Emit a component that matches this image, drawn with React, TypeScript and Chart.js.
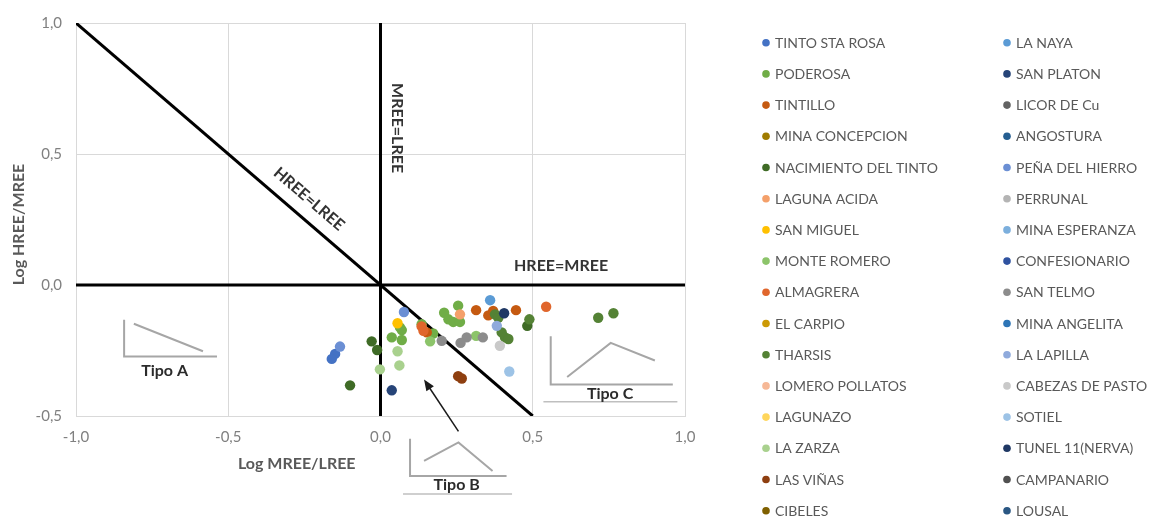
import { useEffect, useRef } from 'react';
import { Chart, registerables } from 'chart.js';

Chart.register(...registerables);

const FONT = 'Lato, "Open Sans", sans-serif';

// series names, in legend order (two columns of 16)
const SERIES_NAMES = [
  'TINTO STA ROSA', 'PODEROSA', 'TINTILLO', 'MINA CONCEPCION', 'NACIMIENTO DEL TINTO',
  'LAGUNA ACIDA', 'SAN MIGUEL', 'MONTE ROMERO', 'ALMAGRERA', 'EL CARPIO', 'THARSIS',
  'LOMERO POLLATOS', 'LAGUNAZO', 'LA ZARZA', 'LAS VIÑAS', 'CIBELES',
  'LA NAYA', 'SAN PLATON', 'LICOR DE Cu', 'ANGOSTURA', 'PEÑA DEL HIERRO', 'PERRUNAL',
  'MINA ESPERANZA', 'CONFESIONARIO', 'SAN TELMO', 'MINA ANGELITA', 'LA LAPILLA',
  'CABEZAS DE PASTO', 'SOTIEL', 'TUNEL 11(NERVA)', 'CAMPANARIO', 'LOUSAL',
];

const SERIES_COLORS = [
  '#4472C4', '#70AD47', '#C55A11', '#A07C00', '#3F6B26',
  '#F4A06A', '#FFC000', '#8CC46A', '#E0662C', '#CC9A06', '#548235',
  '#F6B896', '#FFD65C', '#A9D18E', '#8E3F10', '#7F6000',
  '#5B9BD5', '#264478', '#636363', '#255E91', '#6B8FD4', '#B4B4B4',
  '#7CAFDD', '#2F52A0', '#8C8C8C', '#2E75B6', '#8FAADC',
  '#C9C9C9', '#9DC3E6', '#1F3864', '#505050', '#2A5783',
];

// [Log MREE/LREE, Log HREE/MREE]
const TINTO_STA_ROSA = [[-0.149, -0.263], [-0.160, -0.282]];
const PODEROSA = [
  [0.255, -0.079], [0.209, -0.106], [0.223, -0.131], [0.239, -0.141], [0.261, -0.141],
  [0.064, -0.162], [0.070, -0.172], [0.037, -0.200], [0.070, -0.210], [0.135, -0.150],
  [0.173, -0.185],
];
const TINTILLO = [[0.314, -0.096], [0.354, -0.116], [0.370, -0.099], [0.445, -0.096], [0.152, -0.181]];
const MINA_CONCEPCION: number[][] = [];
const NACIMIENTO_DEL_TINTO = [[-0.029, -0.215], [-0.011, -0.248], [-0.100, -0.383], [0.482, -0.156]];
const LAGUNA_ACIDA = [[0.261, -0.112]];
const SAN_MIGUEL = [[0.056, -0.146]];
const MONTE_ROMERO = [[0.314, -0.194], [0.163, -0.215]];
const ALMAGRERA = [[0.544, -0.083], [0.135, -0.158], [0.141, -0.175]];
const EL_CARPIO: number[][] = [];
const THARSIS = [
  [0.376, -0.112], [0.387, -0.125], [0.398, -0.181], [0.409, -0.200], [0.420, -0.206],
  [0.489, -0.131], [0.715, -0.125], [0.765, -0.108],
];
const LOMERO_POLLATOS: number[][] = [];
const LAGUNAZO: number[][] = [];
const LA_ZARZA = [[0.056, -0.253], [0.062, -0.307], [-0.002, -0.322]];
const LAS_VINAS = [[0.255, -0.348], [0.267, -0.357]];
const CIBELES: number[][] = [];
const LA_NAYA = [[0.360, -0.058]];
const SAN_PLATON = [[0.037, -0.402]];
const LICOR_DE_CU: number[][] = [];
const ANGOSTURA: number[][] = [];
const PENA_DEL_HIERRO = [[-0.133, -0.235], [0.077, -0.103]];
const PERRUNAL: number[][] = [];
const MINA_ESPERANZA: number[][] = [];
const CONFESIONARIO: number[][] = [];
const SAN_TELMO = [[0.283, -0.200], [0.263, -0.221], [0.336, -0.200], [0.201, -0.213]];
const MINA_ANGELITA: number[][] = [];
const LA_LAPILLA = [[0.382, -0.156]];
const CABEZAS_DE_PASTO = [[0.392, -0.232]];
const SOTIEL = [[0.423, -0.330]];
const TUNEL_11 = [[0.406, -0.108]];
const CAMPANARIO: number[][] = [];
const LOUSAL: number[][] = [];

const SERIES_POINTS = [
  TINTO_STA_ROSA, PODEROSA, TINTILLO, MINA_CONCEPCION, NACIMIENTO_DEL_TINTO,
  LAGUNA_ACIDA, SAN_MIGUEL, MONTE_ROMERO, ALMAGRERA, EL_CARPIO, THARSIS,
  LOMERO_POLLATOS, LAGUNAZO, LA_ZARZA, LAS_VINAS, CIBELES,
  LA_NAYA, SAN_PLATON, LICOR_DE_CU, ANGOSTURA, PENA_DEL_HIERRO, PERRUNAL,
  MINA_ESPERANZA, CONFESIONARIO, SAN_TELMO, MINA_ANGELITA, LA_LAPILLA,
  CABEZAS_DE_PASTO, SOTIEL, TUNEL_11, CAMPANARIO, LOUSAL,
];

// reference lines
const HREE_LREE_LINE = [[-1, 1], [0.5, -0.5]];
const MREE_LREE_LINE = [[0, 1], [0, -0.5]];
const HREE_MREE_LINE = [[-1, 0], [1, 0]];

const X_TICKS = [-1, -0.5, 0, 0.5, 1];
const Y_TICKS = [-0.5, 0, 0.5, 1];

// sketches of the three pattern types, in data units
const TIPO_A = {
  axes: [[-0.842, -0.133], [-0.842, -0.273], [-0.537, -0.273]],
  shape: [[-0.810, -0.148], [-0.583, -0.253]],
  label: [-0.709, -0.326],
  rule: null as number[][] | null,
};
const TIPO_B = {
  axes: [[0.097, -0.587], [0.097, -0.729], [0.414, -0.729]],
  shape: [[0.143, -0.671], [0.256, -0.601], [0.368, -0.710]],
  label: [0.250, -0.764],
  rule: [[0.074, -0.798], [0.432, -0.798]],
};
const TIPO_C = {
  axes: [[0.559, -0.196], [0.559, -0.380], [0.960, -0.380]],
  shape: [[0.613, -0.351], [0.756, -0.221], [0.901, -0.288]],
  label: [0.754, -0.414],
  rule: [[0.535, -0.446], [0.975, -0.446]],
};
const ARROW = [[0.256, -0.559], [0.143, -0.361]];

const fmt = (v: number) => v.toFixed(1).replace('.', ',');
const toXY = (pts: number[][]) => pts.map(([x, y]) => ({ x, y }));

const overlayPlugin = {
  id: 'overlay',
  afterDraw(chart: any) {
    const { ctx } = chart;
    const xs = chart.scales.x;
    const ys = chart.scales.y;
    const px = (v: number) => xs.getPixelForValue(v);
    const py = (v: number) => ys.getPixelForValue(v);
    const poly = (pts: number[][]) => {
      ctx.beginPath();
      pts.forEach(([a, b], i) => (i ? ctx.lineTo(px(a), py(b)) : ctx.moveTo(px(a), py(b))));
      ctx.stroke();
    };
    ctx.save();

    // axis titles
    ctx.fillStyle = '#595959';
    ctx.font = `bold 16px ${FONT}`;
    ctx.textAlign = 'center';
    ctx.textBaseline = 'middle';
    ctx.fillText('Log MREE/LREE', px(-0.275), 464);
    ctx.save();
    ctx.translate(19, (chart.chartArea.top + chart.chartArea.bottom) / 2 + 5);
    ctx.rotate(-Math.PI / 2);
    ctx.fillText('Log HREE/MREE', 0, 0);
    ctx.restore();

    // line labels
    ctx.fillStyle = '#333333';
    ctx.font = `bold 16px ${FONT}`;
    const ang = Math.atan2(py(HREE_LREE_LINE[1][1]) - py(HREE_LREE_LINE[0][1]), px(HREE_LREE_LINE[1][0]) - px(HREE_LREE_LINE[0][0]));
    ctx.save();
    ctx.translate(px(-0.235), py(0.328));
    ctx.rotate(ang);
    ctx.fillText('HREE=LREE', 0, 0);
    ctx.restore();
    ctx.save();
    ctx.translate(px(0.055), py(0.599));
    ctx.rotate(Math.PI / 2);
    ctx.fillText('MREE=LREE', 0, 0);
    ctx.restore();
    ctx.fillText('HREE=MREE', px(0.593), py(0.073));

    // type sketches
    [TIPO_A, TIPO_B, TIPO_C].forEach((t, i) => {
      ctx.strokeStyle = '#a6a6a6';
      ctx.lineWidth = 2;
      poly(t.axes);
      poly(t.shape);
      if (t.rule) {
        ctx.strokeStyle = '#bfbfbf';
        ctx.lineWidth = 1.5;
        poly(t.rule);
      }
      ctx.fillStyle = '#2b2b2b';
      ctx.font = `bold 16px ${FONT}`;
      ctx.fillText(['Tipo A', 'Tipo B', 'Tipo C'][i], px(t.label[0]), py(t.label[1]));
    });

    // arrow to Tipo B
    const [tx, ty] = [px(ARROW[0][0]), py(ARROW[0][1])];
    const [hx, hy] = [px(ARROW[1][0]), py(ARROW[1][1])];
    const a = Math.atan2(hy - ty, hx - tx);
    ctx.strokeStyle = '#1a1a1a';
    ctx.fillStyle = '#1a1a1a';
    ctx.lineWidth = 1.5;
    ctx.beginPath();
    ctx.moveTo(tx, ty);
    ctx.lineTo(hx - 8 * Math.cos(a), hy - 8 * Math.sin(a));
    ctx.stroke();
    ctx.beginPath();
    ctx.moveTo(hx, hy);
    ctx.lineTo(hx - 11 * Math.cos(a) + 4.5 * Math.sin(a), hy - 11 * Math.sin(a) - 4.5 * Math.cos(a));
    ctx.lineTo(hx - 11 * Math.cos(a) - 4.5 * Math.sin(a), hy - 11 * Math.sin(a) + 4.5 * Math.cos(a));
    ctx.closePath();
    ctx.fill();

    // legend, two columns
    ctx.font = `14px ${FONT}`;
    ctx.textAlign = 'left';
    SERIES_NAMES.forEach((name, i) => {
      const col = i < 16 ? 0 : 1;
      const row = i % 16;
      const mx = col ? 1007 : 766;
      const my = 42.7 + row * 31.2;
      ctx.fillStyle = SERIES_COLORS[i];
      ctx.beginPath();
      ctx.arc(mx, my, 3.8, 0, Math.PI * 2);
      ctx.fill();
      ctx.fillStyle = '#595959';
      ctx.fillText(name, mx + 9, my + 0.5);
    });
    ctx.restore();
  },
};

export default function App() {
  const canvasRef = useRef<HTMLCanvasElement | null>(null);

  useEffect(() => {
    if (!canvasRef.current) return;
    const lineStyle = {
      type: 'scatter',
      showLine: true,
      borderColor: '#000000',
      borderWidth: 3,
      pointRadius: 0,
      order: 100,
    };
    const datasets: any[] = SERIES_NAMES.map((name, i) => ({
      label: name,
      data: toXY(SERIES_POINTS[i]),
      backgroundColor: SERIES_COLORS[i],
      borderColor: SERIES_COLORS[i],
      pointRadius: 5.2,
      pointBorderWidth: 0,
      order: -i,
    }));
    datasets.push(
      { ...lineStyle, label: 'HREE=LREE', data: toXY(HREE_LREE_LINE) },
      { ...lineStyle, label: 'MREE=LREE', data: toXY(MREE_LREE_LINE) },
      { ...lineStyle, label: 'HREE=MREE', data: toXY(HREE_MREE_LINE) },
    );

    const tickFont = { family: FONT, size: 15 };
    const chart = new Chart(canvasRef.current, {
      type: 'scatter',
      data: { datasets },
      options: {
        responsive: true,
        maintainAspectRatio: false,
        animation: false,
        layout: { padding: { top: 19, right: 470, left: 0, bottom: 0 } },
        plugins: { legend: { display: false }, tooltip: { enabled: false } },
        scales: {
          x: {
            type: 'linear',
            min: X_TICKS[0],
            max: X_TICKS[X_TICKS.length - 1],
            afterBuildTicks: (s: any) => { s.ticks = X_TICKS.map((value) => ({ value })); },
            afterFit: (s: any) => { s.height = 105; },
            grid: { color: '#d9d9d9', drawTicks: false, lineWidth: 1 },
            border: { color: '#d9d9d9', width: 1 },
            ticks: { padding: 12, color: '#808080', font: tickFont, callback: (v: any) => fmt(Number(v)) },
          },
          y: {
            type: 'linear',
            min: Y_TICKS[0],
            max: Y_TICKS[Y_TICKS.length - 1],
            afterBuildTicks: (s: any) => { s.ticks = Y_TICKS.map((value) => ({ value })); },
            afterFit: (s: any) => { s.width = 76; },
            grid: { color: '#d9d9d9', drawTicks: false, lineWidth: 1 },
            border: { color: '#d9d9d9', width: 1 },
            ticks: { padding: 14, color: '#808080', font: tickFont, callback: (v: any) => fmt(Number(v)) },
          },
        },
      } as any,
      plugins: [overlayPlugin],
    });
    return () => chart.destroy();
  }, []);

  return (
    <div style={{ position: 'fixed', left: 0, top: 0, width: 1155, height: 521, background: '#fff' }}>
      <canvas ref={canvasRef} />
    </div>
  );
}
